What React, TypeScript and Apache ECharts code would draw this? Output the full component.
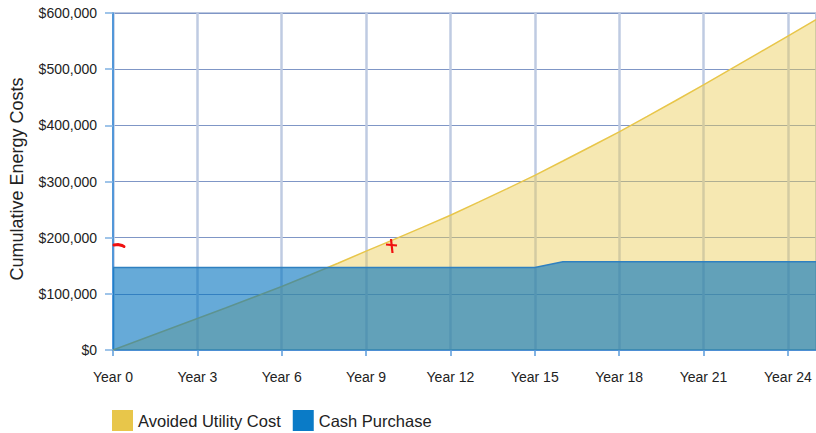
import React, { useEffect, useRef } from "react";
import * as echarts from "echarts";

const years: number[] = [0,1,2,3,4,5,6,7,8,9,10,11,12,13,14,15,16,17,18,19,20,21,22,23,24,25];
const avoidedUtilityCost: number[] = [
  0, 18600, 37300, 56000, 74900, 93900, 113000, 133500, 154500, 176000,
  197000, 218300, 240000, 263200, 286800, 311000, 336500, 362300, 388500,
  416000, 443800, 472000, 501000, 530000, 559000, 588000,
];
const cashPurchase: number[] = [
  147000, 147000, 147000, 147000, 147000, 147000, 147000, 147000, 147000,
  147000, 147000, 147000, 147000, 147000, 147000, 147000, 157000, 157000,
  157000, 157000, 157000, 157000, 157000, 157000, 157000, 157000,
];
const seriesNames: string[] = ["Avoided Utility Cost", "Cash Purchase"];
const yAxisTitle = "Cumulative Energy Costs";

const FONT = "'Liberation Sans', Arial, sans-serif";

export default function App() {
  const ref = useRef<HTMLDivElement>(null);
  useEffect(() => {
    if (!ref.current) return;
    const chart = echarts.init(ref.current, undefined, { renderer: "svg" });
    chart.setOption({
      animation: false,
      backgroundColor: "#ffffff",
      grid: {
        left: 113,
        top: 13,
        width: 705,
        height: 337,
        show: true,
        borderColor: "#BCC8E0",
        borderWidth: 2,
        backgroundColor: "transparent",
      },
      legend: {
        left: 107,
        top: 405,
        itemWidth: 21,
        itemHeight: 21,
        itemGap: 12,
        icon: "rect",
        textStyle: { fontFamily: FONT, fontSize: 16.5, color: "#222" },
        data: seriesNames,
      },
      xAxis: {
        type: "value",
        min: 0,
        max: 25,
        interval: 3,
        axisLine: { show: true, lineStyle: { color: "#3D8DD8", width: 1.5 } },
        axisTick: { show: true, length: 6, lineStyle: { color: "#5A9BDB", width: 1.5 } },
        axisLabel: {
          showMaxLabel: false,
          margin: 20,
          fontFamily: FONT,
          fontSize: 14,
          color: "#222",
          formatter: (v: number) => `Year ${v}`,
        },
        splitLine: { show: true, lineStyle: { color: "#BFCBE2", width: 2.5 } },
      },
      yAxis: {
        type: "value",
        min: 0,
        max: 600000,
        interval: 100000,
        axisLine: { show: true, lineStyle: { color: "#2E86D6", width: 1.5 } },
        axisTick: { show: true, inside: false, length: 8, lineStyle: { color: "#7FB0E2", width: 1.5 } },
        axisLabel: {
          margin: 16,
          fontFamily: FONT,
          fontSize: 14,
          color: "#222",
          formatter: (v: number) => "$" + v.toLocaleString("en-US"),
        },
        splitLine: { show: true, lineStyle: { color: "#7F96C6", width: 1.2 } },
      },
      series: [
        {
          name: seriesNames[0],
          type: "line",
          symbol: "none",
          data: years.map((y, i) => [y, avoidedUtilityCost[i]]),
          itemStyle: { color: "#E8C64A" },
          lineStyle: { color: "#E8C64A", width: 1.5 },
          areaStyle: { color: "#EBCB55", opacity: 0.45 },
          z: 2,
        },
        {
          name: seriesNames[1],
          type: "line",
          symbol: "none",
          data: years.map((y, i) => [y, cashPurchase[i]]),
          itemStyle: { color: "#0A7BC7" },
          lineStyle: { color: "#2F80C0", width: 1.5 },
          areaStyle: { color: "#0071BE", opacity: 0.6 },
          z: 3,
        },
      ],
      graphic: [
        {
          type: "text",
          x: 17,
          y: 179,
          rotation: Math.PI / 2,
          style: {
            text: yAxisTitle,
            fontFamily: FONT,
            fontSize: 18,
            fill: "#222",
            align: "center",
            verticalAlign: "middle",
          },
        },
        {
          type: "polyline",
          shape: { points: [[114, 245], [118, 244.5], [122, 245.5], [124, 246.5]] },
          style: { stroke: "#F01010", lineWidth: 3, fill: null, lineCap: "round" },
          z: 100,
        },
        {
          type: "line",
          shape: { x1: 386, y1: 244.5, x2: 397, y2: 245.5 },
          style: { stroke: "#F01010", lineWidth: 2.2 },
          z: 100,
        },
        {
          type: "line",
          shape: { x1: 391, y1: 239, x2: 392.5, y2: 253 },
          style: { stroke: "#F01010", lineWidth: 2.2 },
          z: 100,
        },
      ],
    });
    return () => chart.dispose();
  }, []);
  return (
    <div
      ref={ref}
      style={{ position: "fixed", left: 0, top: 0, width: 816, height: 433, background: "#fff" }}
    />
  );
}
